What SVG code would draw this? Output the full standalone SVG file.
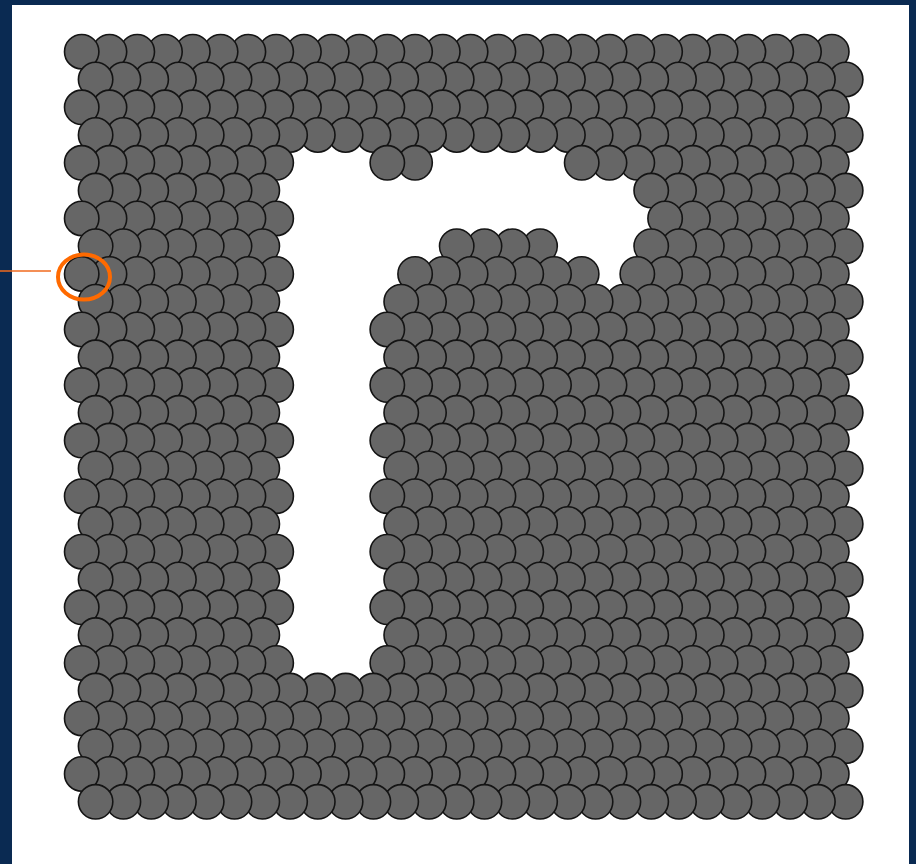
<svg xmlns="http://www.w3.org/2000/svg" xmlns:xlink="http://www.w3.org/1999/xlink" width="916" height="864" viewBox="0 0 916 864">
<style>
.atom{fill:#666666;stroke:#141414;stroke-width:1.6}
.hl{fill:none;stroke:#FF6A00;stroke-width:4}
.lead{fill:none;stroke:#F06A1E;stroke-width:1.6}
</style>
<defs>
<circle id="a" class="atom" r="17.2"/>
<g id="seg-hi">
<use href="#a" x="750.1"/><use href="#a" x="722.3"/><use href="#a" x="694.5"/><use href="#a" x="666.7"/><use href="#a" x="638.9"/><use href="#a" x="611.2"/><use href="#a" x="583.4"/><use href="#a" x="555.6"/><use href="#a" x="527.8"/><use href="#a" x="500"/><use href="#a" x="472.3"/><use href="#a" x="444.5"/><use href="#a" x="416.7"/><use href="#a" x="388.9"/><use href="#a" x="361.1"/><use href="#a" x="333.4"/><use href="#a" x="305.6"/>
</g>
<g id="seg-mid">
<use href="#a" x="277.8"/><use href="#a" x="250"/><use href="#a" x="222.2"/>
</g>
<use id="c7" href="#a" x="194.5"/>
<g id="seg-lo">
<use href="#a" x="166.7"/><use href="#a" x="138.9"/><use href="#a" x="111.1"/><use href="#a" x="83.3"/><use href="#a" x="55.6"/><use href="#a" x="27.8"/><use href="#a" x="0"/>
</g>
<g id="seg-r20">
<use href="#a" x="750.1"/><use href="#a" x="722.3"/><use href="#a" x="694.5"/><use href="#a" x="666.7"/><use href="#a" x="638.9"/><use href="#a" x="611.2"/><use href="#a" x="583.4"/><use href="#a" x="555.6"/>
</g>
<g id="row-full"><use href="#seg-hi"/><use href="#seg-mid"/><use href="#c7"/><use href="#seg-lo"/></g>
<g id="row-strip-even"><use href="#seg-hi"/><use href="#c7"/><use href="#seg-lo"/></g>
<g id="row-strip-odd"><use href="#seg-hi"/><use href="#seg-lo"/></g>
</defs>
<rect id="frame" x="0" y="0" width="916" height="864" fill="#0A2A52"/>
<rect id="canvas" x="12" y="5" width="897" height="859" fill="#FFFFFF"/>
<g id="lattice">
<g id="r0" transform="translate(81.7,51.7)"><use href="#row-full"/></g>
<g id="r1" transform="translate(95.6,79.5)"><use href="#row-full"/></g>
<g id="r2" transform="translate(81.7,107.3)"><use href="#row-full"/></g>
<g id="r3" transform="translate(95.6,135)"><use href="#row-full"/></g>
<g id="r4" transform="translate(81.7,162.8)">
<use href="#a" x="750.1"/><use href="#a" x="722.3"/><use href="#a" x="694.5"/><use href="#a" x="666.7"/><use href="#a" x="638.9"/><use href="#a" x="611.2"/><use href="#a" x="583.4"/><use href="#a" x="555.6"/><use href="#a" x="527.8"/><use href="#a" x="500"/>
<use href="#a" x="333.4"/><use href="#a" x="305.6"/>
<use href="#c7"/><use href="#seg-lo"/>
</g>
<g id="r5" transform="translate(95.6,190.6)"><use href="#seg-r20"/><use href="#seg-lo"/></g>
<g id="r6" transform="translate(81.7,218.4)">
<use href="#a" x="750.1"/><use href="#a" x="722.3"/><use href="#a" x="694.5"/><use href="#a" x="666.7"/><use href="#a" x="638.9"/><use href="#a" x="611.2"/><use href="#a" x="583.4"/>
<use href="#c7"/><use href="#seg-lo"/>
</g>
<g id="r7" transform="translate(95.6,246.2)">
<use href="#seg-r20"/>
<use href="#a" x="444.5"/><use href="#a" x="416.7"/><use href="#a" x="388.9"/><use href="#a" x="361.1"/>
<use href="#seg-lo"/>
</g>
<g id="r8" transform="translate(81.7,273.9)">
<use href="#seg-r20"/>
<use href="#a" x="500"/><use href="#a" x="472.3"/><use href="#a" x="444.5"/><use href="#a" x="416.7"/><use href="#a" x="388.9"/><use href="#a" x="361.1"/><use href="#a" x="333.4"/>
<use href="#c7"/><use href="#seg-lo"/>
</g>
<g id="r9" transform="translate(95.6,301.7)"><use href="#row-strip-odd"/></g>
<g id="r10" transform="translate(81.7,329.5)"><use href="#row-strip-even"/></g>
<g id="r11" transform="translate(95.6,357.3)"><use href="#row-strip-odd"/></g>
<g id="r12" transform="translate(81.7,385.1)"><use href="#row-strip-even"/></g>
<g id="r13" transform="translate(95.6,412.8)"><use href="#row-strip-odd"/></g>
<g id="r14" transform="translate(81.7,440.6)"><use href="#row-strip-even"/></g>
<g id="r15" transform="translate(95.6,468.4)"><use href="#row-strip-odd"/></g>
<g id="r16" transform="translate(81.7,496.2)"><use href="#row-strip-even"/></g>
<g id="r17" transform="translate(95.6,524)"><use href="#row-strip-odd"/></g>
<g id="r18" transform="translate(81.7,551.7)"><use href="#row-strip-even"/></g>
<g id="r19" transform="translate(95.6,579.5)"><use href="#row-strip-odd"/></g>
<g id="r20" transform="translate(81.7,607.3)"><use href="#row-strip-even"/></g>
<g id="r21" transform="translate(95.6,635.1)"><use href="#row-strip-odd"/></g>
<g id="r22" transform="translate(81.7,662.9)"><use href="#row-strip-even"/></g>
<g id="r23" transform="translate(95.6,690.6)"><use href="#row-full"/></g>
<g id="r24" transform="translate(81.7,718.4)"><use href="#row-full"/></g>
<g id="r25" transform="translate(95.6,746.2)"><use href="#row-full"/></g>
<g id="r26" transform="translate(81.7,774)"><use href="#row-full"/></g>
<g id="r27" transform="translate(95.6,801.8)"><use href="#row-full"/></g>
</g>
<g id="highlight">
<ellipse class="hl" cx="84" cy="277" rx="26" ry="22.5"/>
</g>
<g id="connectors">
<line class="lead" x1="0" y1="271" x2="51" y2="271"/>
</g>
</svg>
